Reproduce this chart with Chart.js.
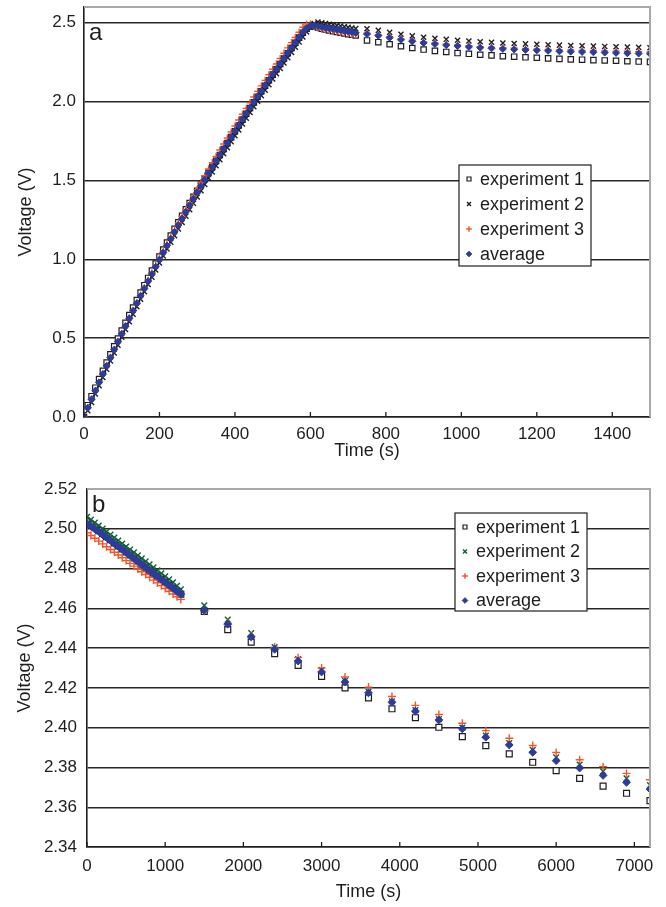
<!DOCTYPE html>
<html lang="en">
<head>
<meta charset="utf-8" />
<title>Voltage vs time</title>
<script src="https://cdn.jsdelivr.net/npm/chart.js"></script>
<style>
  html, body { margin: 0; padding: 0; background: #fff; }
  .panel { position: absolute; left: 0; width: 666px; }
  #panelA { top: 0; height: 460px; }
  #panelB { top: 460px; height: 447px; }
</style>
</head>
<body>
<div class="panel" id="panelA"><canvas id="chartA" width="666" height="460"></canvas></div>
<div class="panel" id="panelB"><canvas id="chartB" width="666" height="447"></canvas></div>
<script>
// ---- panel a : charging ramp then rest, 0-1500 s
var timeA = [0,10,20,30,40,50,60,70,80,90,100,110,120,130,140,150,160,170,180,190,
  200,210,220,230,240,250,260,270,280,290,300,310,320,330,340,350,360,370,380,390,
  400,410,420,430,440,450,460,470,480,490,500,510,520,530,540,550,560,570,580,590,
  600,610,620,630,640,650,660,670,680,690,700,710,720,
  750,780,810,840,870,900,930,960,990,1020,1050,1080,1110,1140,1170,1200,1230,1260,
  1290,1320,1350,1380,1410,1440,1470,1500];

var exp1A = [0.000,0.075,0.132,0.186,0.240,0.293,0.345,0.397,0.448,0.498,
  0.548,0.597,0.646,0.694,0.742,0.789,0.836,0.882,0.928,0.973,
  1.018,1.062,1.106,1.150,1.193,1.235,1.276,1.317,1.357,1.396,
  1.435,1.472,1.510,1.548,1.586,1.624,1.662,1.700,1.737,1.775,
  1.812,1.849,1.886,1.923,1.959,1.995,2.031,2.066,2.101,2.136,
  2.171,2.205,2.239,2.273,2.307,2.340,2.373,2.406,2.437,2.462,
  2.475,2.476,2.470,2.463,2.457,2.452,2.447,2.442,2.437,2.432,
  2.428,2.424,2.420,
  2.388,2.377,2.364,2.351,2.340,2.330,2.322,2.315,2.308,2.303,2.297,2.293,2.288,
  2.285,2.281,2.278,2.274,2.271,2.268,2.266,2.263,2.261,2.259,2.256,2.254,2.252];

var exp2A = [0.000,0.040,0.092,0.146,0.199,0.251,0.303,0.355,0.406,0.456,
  0.506,0.555,0.604,0.652,0.700,0.747,0.794,0.840,0.886,0.932,
  0.977,1.021,1.065,1.108,1.150,1.192,1.233,1.274,1.315,1.355,
  1.395,1.435,1.475,1.515,1.554,1.593,1.632,1.670,1.708,1.746,
  1.784,1.821,1.858,1.895,1.931,1.967,2.003,2.038,2.073,2.108,
  2.143,2.177,2.211,2.245,2.279,2.312,2.345,2.378,2.410,2.442,
  2.472,2.495,2.505,2.500,2.495,2.491,2.487,2.483,2.479,2.475,
  2.471,2.467,2.463,
  2.462,2.452,2.439,2.427,2.417,2.408,2.401,2.395,2.389,2.384,2.380,2.376,2.372,
  2.369,2.366,2.364,2.361,2.358,2.356,2.354,2.352,2.350,2.348,2.346,2.344,2.342];

var exp3A = [0.000,0.060,0.113,0.167,0.220,0.273,0.326,0.378,0.429,0.479,
  0.529,0.578,0.628,0.677,0.725,0.773,0.820,0.867,0.913,0.960,
  1.006,1.052,1.098,1.142,1.186,1.230,1.273,1.316,1.358,1.400,
  1.442,1.486,1.530,1.573,1.613,1.653,1.693,1.731,1.769,1.807,
  1.845,1.883,1.920,1.957,1.993,2.029,2.065,2.100,2.135,2.170,
  2.205,2.239,2.273,2.307,2.341,2.374,2.407,2.440,2.472,2.492,
  2.493,2.478,2.468,2.460,2.455,2.451,2.447,2.443,2.439,2.435,
  2.431,2.427,2.423,
  2.434,2.425,2.412,2.398,2.389,2.378,2.372,2.364,2.359,2.354,2.349,2.345,2.342,
  2.339,2.337,2.333,2.331,2.328,2.327,2.325,2.324,2.322,2.320,2.319,2.317,2.315];

var avgA = [0.000,0.058,0.112,0.166,0.219,0.272,0.324,0.376,0.427,0.477,
  0.527,0.576,0.625,0.673,0.721,0.768,0.815,0.861,0.907,0.953,
  0.998,1.043,1.087,1.131,1.174,1.217,1.259,1.301,1.343,1.384,
  1.425,1.465,1.505,1.545,1.584,1.623,1.662,1.700,1.738,1.776,
  1.814,1.851,1.888,1.925,1.961,1.997,2.033,2.068,2.103,2.138,
  2.173,2.207,2.241,2.275,2.309,2.342,2.375,2.408,2.440,2.465,
  2.480,2.483,2.479,2.474,2.469,2.465,2.461,2.457,2.453,2.449,
  2.445,2.441,2.437,
  2.428,2.418,2.405,2.392,2.382,2.372,2.365,2.358,2.352,2.347,2.342,2.338,2.334,
  2.331,2.328,2.325,2.322,2.319,2.317,2.315,2.313,2.311,2.309,2.307,2.305,2.303];

var xTicksA = [0, 200, 400, 600, 800, 1000, 1200, 1400];
var yTicksA = [0, 0.5, 1.0, 1.5, 2.0, 2.5];

// ---- panel b : hold at 2.5 V, 0-7200 s
var timeB = [0,50,100,150,200,250,300,350,400,450,500,550,600,650,700,750,800,850,900,950,
  1000,1050,1100,1150,1200,
  1500,1800,2100,2400,2700,3000,3300,3600,3900,4200,4500,4800,5100,5400,5700,6000,
  6300,6600,6900,7200];

var exp1B = [2.5035,2.5020,2.5005,2.4991,2.4975,2.4960,2.4945,2.4929,2.4914,2.4899,
  2.4884,2.4868,2.4853,2.4838,2.4822,2.4807,2.4792,2.4777,2.4762,2.4746,
  2.4731,2.4716,2.4701,2.4686,2.4671,
  2.4585,2.4493,2.4430,2.4372,2.4313,2.4258,2.4200,2.4150,2.4095,2.4050,
  2.4002,2.3955,2.3910,2.3868,2.3826,2.3784,2.3745,2.3706,2.3670,2.3633];

var exp2B = [2.5060,2.5046,2.5031,2.5016,2.5001,2.4986,2.4971,2.4956,2.4941,2.4926,
  2.4911,2.4896,2.4881,2.4866,2.4851,2.4836,2.4821,2.4806,2.4791,2.4776,
  2.4761,2.4746,2.4731,2.4713,2.4696,
  2.4615,2.4543,2.4476,2.4405,2.4345,2.4290,2.4235,2.4180,2.4133,2.4088,
  2.4043,2.4000,2.3960,2.3923,2.3888,2.3851,2.3815,2.3780,2.3745,2.3711];

var exp3B = [2.4980,2.4966,2.4952,2.4938,2.4924,2.4910,2.4896,2.4882,2.4868,2.4854,
  2.4840,2.4826,2.4812,2.4798,2.4784,2.4770,2.4756,2.4742,2.4728,2.4714,
  2.4700,2.4686,2.4672,2.4658,2.4645,
  2.4585,2.4525,2.4460,2.4405,2.4352,2.4300,2.4255,2.4204,2.4157,2.4112,
  2.4066,2.4022,2.3985,2.3947,2.3910,2.3875,2.3839,2.3804,2.3770,2.3738];

var avgB = [2.5027,2.5013,2.4999,2.4986,2.4970,2.4956,2.4941,2.4925,2.4911,2.4896,
  2.4881,2.4866,2.4851,2.4836,2.4821,2.4806,2.4791,2.4776,2.4761,2.4746,
  2.4731,2.4716,2.4701,2.4686,2.4671,
  2.4590,2.4520,2.4456,2.4394,2.4335,2.4280,2.4230,2.4175,2.4128,2.4083,
  2.4039,2.3994,2.3952,2.3913,2.3876,2.3834,2.3797,2.3760,2.3725,2.3691];

var xTicksB = [0, 1000, 2000, 3000, 4000, 5000, 6000, 7000];
var yTicksB = [2.34, 2.36, 2.38, 2.40, 2.42, 2.44, 2.46, 2.48, 2.50, 2.52];

var seriesNames = ["experiment 1", "experiment 2", "experiment 3", "average"];

var FONT = '"Liberation Sans", Arial, sans-serif';
var INK = "#1e1e1e";

function pairs(xs, ys) {
  return xs.map(function (x, i) { return { x: x, y: ys[i] }; });
}

// frame, inward x ticks, panel letter and boxed legend
var panelDecor = {
  id: "panelDecor",
  afterDraw: function (chart, args, opts) {
    var ctx = chart.ctx, area = chart.chartArea;
    ctx.save();
    ctx.strokeStyle = "#a8a8a8";
    ctx.lineWidth = 2;
    ctx.beginPath();
    ctx.moveTo(area.left, area.top);
    ctx.lineTo(area.right, area.top);
    ctx.lineTo(area.right, area.bottom);
    ctx.stroke();

    var xs = chart.scales.x;
    ctx.strokeStyle = INK;
    ctx.lineWidth = 1.3;
    xs.ticks.forEach(function (t) {
      var px = xs.getPixelForValue(t.value);
      ctx.beginPath();
      ctx.moveTo(px, area.bottom);
      ctx.lineTo(px, area.bottom - 5);
      ctx.stroke();
    });

    ctx.fillStyle = INK;
    ctx.font = "24px " + FONT;
    ctx.textBaseline = "alphabetic";
    ctx.fillText(opts.letter, area.left + 5, area.top + opts.letterBase);

    var b = opts.box;
    ctx.fillStyle = "#fff";
    ctx.fillRect(b.x, b.y, b.w, b.h);
    ctx.strokeStyle = INK;
    ctx.lineWidth = 1.2;
    ctx.strokeRect(b.x, b.y, b.w, b.h);
    ctx.font = "18px " + FONT;
    ctx.textBaseline = "middle";
    chart.data.datasets.forEach(function (ds, i) {
      var y = b.y + opts.rowTop + i * opts.rowGap;
      ctx.fillStyle = ds.backgroundColor;
      ctx.strokeStyle = ds.borderColor;
      ctx.lineWidth = ds.borderWidth;
      Chart.helpers.drawPoint(ctx, { pointStyle: ds.pointStyle, radius: 2.8, borderWidth: ds.borderWidth, rotation: 0 }, b.x + 10, y);
      ctx.fillStyle = INK;
      ctx.fillText(ds.label, b.x + 21, y + 1);
    });
    ctx.restore();
  }
};

function makeDatasets(t, e1, e2, e3, av, green, r) {
  return [
    { label: seriesNames[0], data: pairs(t, e1), pointStyle: "rect", pointRadius: r + 0.6,
      borderColor: INK, backgroundColor: "#fff", borderWidth: 1.2, order: 3 },
    { label: seriesNames[1], data: pairs(t, e2), pointStyle: "crossRot", pointRadius: r + 0.4,
      borderColor: green, backgroundColor: green, borderWidth: 1.4, order: 2 },
    { label: seriesNames[2], data: pairs(t, e3), pointStyle: "cross", pointRadius: r + 0.4,
      borderColor: "#f2552a", backgroundColor: "#f2552a", borderWidth: 1.4, order: 1 },
    { label: seriesNames[3], data: pairs(t, av), pointStyle: "rectRot", pointRadius: r + 0.3,
      borderColor: "#2b3c9c", backgroundColor: "#2b3c9c", borderWidth: 1, order: 0 }
  ];
}

function tickList(values) {
  return function (s) {
    s.ticks = values.map(function (v) { return { value: v }; });
  };
}

function makeConfig(datasets, p) {
  return {
    type: "scatter",
    data: { datasets: datasets },
    options: {
      responsive: false,
      animation: false,
      events: [],
      layout: { padding: { left: 0, right: 16, top: p.top, bottom: 0 } },
      plugins: {
        legend: { display: false },
        tooltip: { enabled: false },
        panelDecor: { letter: p.letter, letterBase: p.letterBase, box: p.box, rowTop: p.rowTop, rowGap: p.rowGap }
      },
      scales: {
        x: {
          type: "linear",
          min: p.xMin, max: p.xMax,
          afterBuildTicks: tickList(p.xTicks),
          afterFit: function (s) { s.height = p.xHeight; s.paddingLeft = 0; s.paddingRight = 0; },
          grid: { display: false, drawTicks: false },
          border: { display: true, color: INK, width: 1.6 },
          ticks: {
            autoSkip: false, padding: p.xPad, maxRotation: 0,
            color: INK, font: { family: FONT, size: 17 },
            callback: function (v) { return String(v); }
          },
          title: { display: true, text: "Time (s)", color: INK,
            font: { family: FONT, size: 18, lineHeight: 1 }, padding: { top: 0, bottom: p.xTitlePad } }
        },
        y: {
          type: "linear",
          min: p.yMin, max: p.yMax,
          afterBuildTicks: tickList(p.yTicks),
          afterFit: function (s) { s.width = p.yWidth; s.paddingTop = 0; s.paddingBottom = 0; },
          grid: { color: "#262626", lineWidth: 1.4, drawTicks: false },
          border: { display: true, color: INK, width: 1.6 },
          ticks: {
            autoSkip: false, padding: p.yPad,
            color: INK, font: { family: FONT, size: 17 },
            callback: function (v) { return v.toFixed(p.yDigits); }
          },
          title: { display: true, text: "Voltage (V)", color: INK,
            font: { family: FONT, size: 18, lineHeight: 1 }, padding: { top: p.yTitlePad, bottom: 0 } }
        }
      }
    },
    plugins: [panelDecor]
  };
}

var chartA = new Chart(document.getElementById("chartA"), makeConfig(
  makeDatasets(timeA, exp1A, exp2A, exp3A, avgA, INK, 3.2),
  { letter: "a", letterBase: 33, top: 7, xMin: 0, xMax: 1500, xTicks: xTicksA, xHeight: 43, xPad: 7, xTitlePad: 0,
    yMin: 0, yMax: 2.6, yTicks: yTicksA, yWidth: 84, yPad: 8, yDigits: 1, yTitlePad: 17,
    box: { x: 459, y: 165, w: 132, h: 101 }, rowTop: 14, rowGap: 25 }
));

var chartB = new Chart(document.getElementById("chartB"), makeConfig(
  makeDatasets(timeB, exp1B, exp2B, exp3B, avgB, "#0f5e2e", 3.6),
  { letter: "b", letterBase: 23, top: 29, xMin: 0, xMax: 7200, xTicks: xTicksB, xHeight: 60, xPad: 9, xTitlePad: 6,
    yMin: 2.34, yMax: 2.52, yTicks: yTicksB, yWidth: 87, yPad: 10, yDigits: 2, yTitlePad: 16,
    box: { x: 455, y: 53, w: 132, h: 98 }, rowTop: 14, rowGap: 24.5 }
));
</script>
</body>
</html>
